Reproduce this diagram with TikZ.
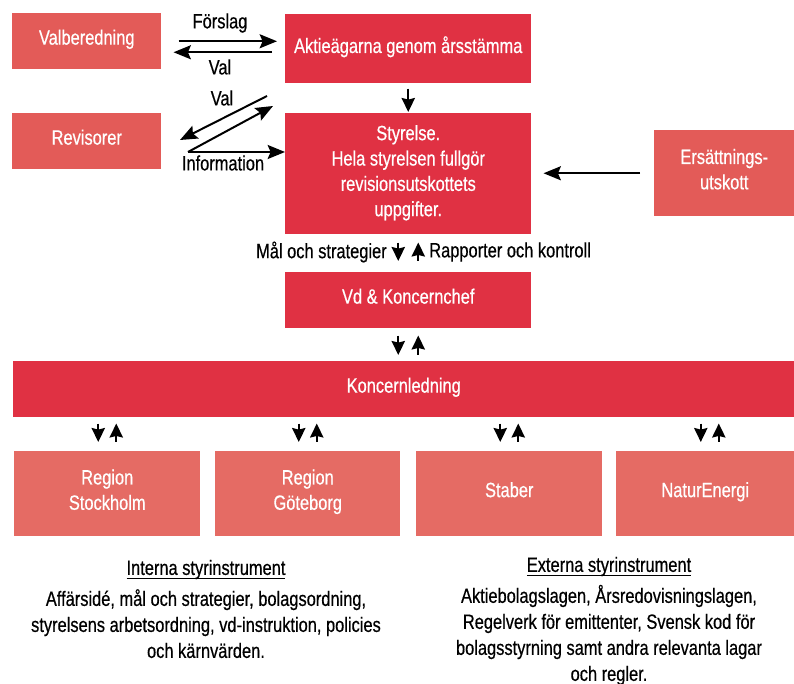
\documentclass[tikz,border=0pt]{standalone}
\usepackage{fontspec}
\setmainfont{Liberation Sans}[FakeStretch=0.795,FakeBold=0.5]
\usetikzlibrary{arrows.meta}
\definecolor{boxdark}{RGB}{224,49,67}
\definecolor{boxlight}{RGB}{227,91,88}
\definecolor{boxregion}{RGB}{229,107,100}
% heading with a close, thin underline
\newcommand\headline[1]{\setbox0\hbox{#1}\rlap{\rule[-3.1pt]{\wd0}{0.85pt}}\box0}
\begin{document}
\begin{tikzpicture}[x=0.75pt,y=-0.75pt,
  font=\fontsize{15.5pt}{19.5pt}\selectfont,
  card/.style={anchor=north west, inner sep=0pt, align=center, text=white,
    text depth=6.2pt, font=\fontsize{15.5pt}{19pt}\selectfont},
  boxsize/.style 2 args={minimum width={0.75pt*#1}, minimum height={0.75pt*#2}},
  lbl/.style={inner sep=0pt, text=black},
  txt/.style={inner sep=0pt, align=center, text=black},
  arrbig/.style={-{Stealth[length=13pt,width=10.5pt,inset=2.2pt]}, line width=1.5pt},
  arr/.style={-{Stealth[length=10.5pt,width=10pt,inset=1.2pt]}, line width=1.4pt}]
\useasboundingbox (0,0) rectangle (794,684);

% top row
\node[card, fill=boxlight, boxsize={149}{56}] (val) at (12,13) {Valberedning};
\node[card, fill=boxdark, boxsize={246}{69}] (akt) at (285,14) {Aktieägarna genom årsstämma};
\node[card, fill=boxlight, boxsize={149}{56}] (rev) at (12,113) {Revisorer};
\node[card, fill=boxdark, boxsize={246}{121}, text depth=4.6pt] (sty) at (285,113)
  {Styrelse.\\Hela styrelsen fullgör\\revisionsutskottets\\uppgifter.};
\node[card, fill=boxlight, boxsize={140}{86}] (ers) at (654,130) {Ersättnings-\\utskott};
\node[card, fill=boxdark, boxsize={246}{56}] (vd) at (285,272) {Vd \& Koncernchef};
\node[card, fill=boxdark, boxsize={781}{56}] (kl) at (13,361) {Koncernledning};

% regions and staff
\node[card, fill=boxregion, boxsize={186}{85}] (r1) at (14,451) {Region\\Stockholm};
\node[card, fill=boxregion, boxsize={185}{85}] (r2) at (215,451) {Region\\Göteborg};
\node[card, fill=boxregion, boxsize={186}{85}] (r3) at (416,451) {Staber};
\node[card, fill=boxregion, boxsize={178}{85}] (r4) at (616,451) {NaturEnergi};

% Valberedning <-> årsstämma
\draw[arrbig] ([xshift=12.75pt]val.east) -- ([xshift=-6pt]val.east -| akt.west);
\draw[arrbig] ([xshift=-9.75pt,yshift=-8.25pt]val.east -| akt.west) -- ([xshift=9pt,yshift=-8.25pt]val.east);
\node[lbl] (lforslag) at (220,23) {Förslag};
\node[lbl] (lval1) at (220,67) {Val};

% Revisorer
\coordinate (valfrom) at (267,96);
\coordinate (valto) at (180,140);
\coordinate (infofrom) at (188,152);
\coordinate (infoup) at (273,106);
\draw[arrbig] (valfrom) -- (valto);
\draw[arrbig] (infofrom) -- (infoup);
\draw[arrbig] (infofrom) -- (infofrom -| sty.west);
\node[lbl] (lval2) at (222,98) {Val};
\node[lbl] (linfo) at (223,163) {Information};

% årsstämma -> styrelse
\draw[arr] ([yshift=-3.75pt]akt.south) -- ([yshift=0.75pt]sty.north);

% ersättningsutskott -> styrelse
\draw[arrbig] ([xshift=-10.5pt]ers.west) -- ([xshift=9pt]ers.west -| sty.east);

% styrelse <-> vd
\draw[arr] ([xshift=-7.5pt,yshift=-6pt]sty.south) -- ([xshift=-7.5pt,yshift=8.25pt]vd.north);
\draw[arr] ([xshift=7.5pt,yshift=8.25pt]vd.north) -- ([xshift=7.5pt,yshift=-6pt]sty.south);
\node[lbl, anchor=east] (lmal) at (387,252) {Mål och strategier};
\node[lbl, anchor=west] (lrapp) at (429,252) {Rapporter och kontroll};

% vd <-> koncernledning
\draw[arr] ([xshift=-7.5pt,yshift=-5.25pt]vd.south) -- ([xshift=-7.5pt,yshift=4.5pt]vd.south |- kl.north);
\draw[arr] ([xshift=7.5pt,yshift=4.5pt]vd.south |- kl.north) -- ([xshift=7.5pt,yshift=-5.25pt]vd.south);

% koncernledning <-> units
\foreach \r/\dx in {r1/0, r2/0, r3/0, r4/3.4}{
  \draw[arr] ([xshift=\dx pt-6.75pt,yshift=-4.5pt]\r.north |- kl.south) -- ([xshift=\dx pt-6.75pt,yshift=6.75pt]\r.north);
  \draw[arr] ([xshift=\dx pt+6.75pt,yshift=6.75pt]\r.north) -- ([xshift=\dx pt+6.75pt,yshift=-4.5pt]\r.north |- kl.south);
}

% governance instruments
\node[txt] (intern) at (206,609)
  {\headline{Interna styrinstrument}\\[3.75pt]
   Affärsidé, mål och strategier, bolagsordning,\\
   styrelsens arbetsordning, vd-instruktion, policies\\
   och kärnvärden.};
\node[txt] (extern) at (609,621)
  {\headline{Externa styrinstrument}\\[3.75pt]
   Aktiebolagslagen, Årsredovisningslagen,\\
   Regelverk för emittenter, Svensk kod för\\
   bolagsstyrning samt andra relevanta lagar\\
   och regler.};
\end{tikzpicture}
\end{document}
